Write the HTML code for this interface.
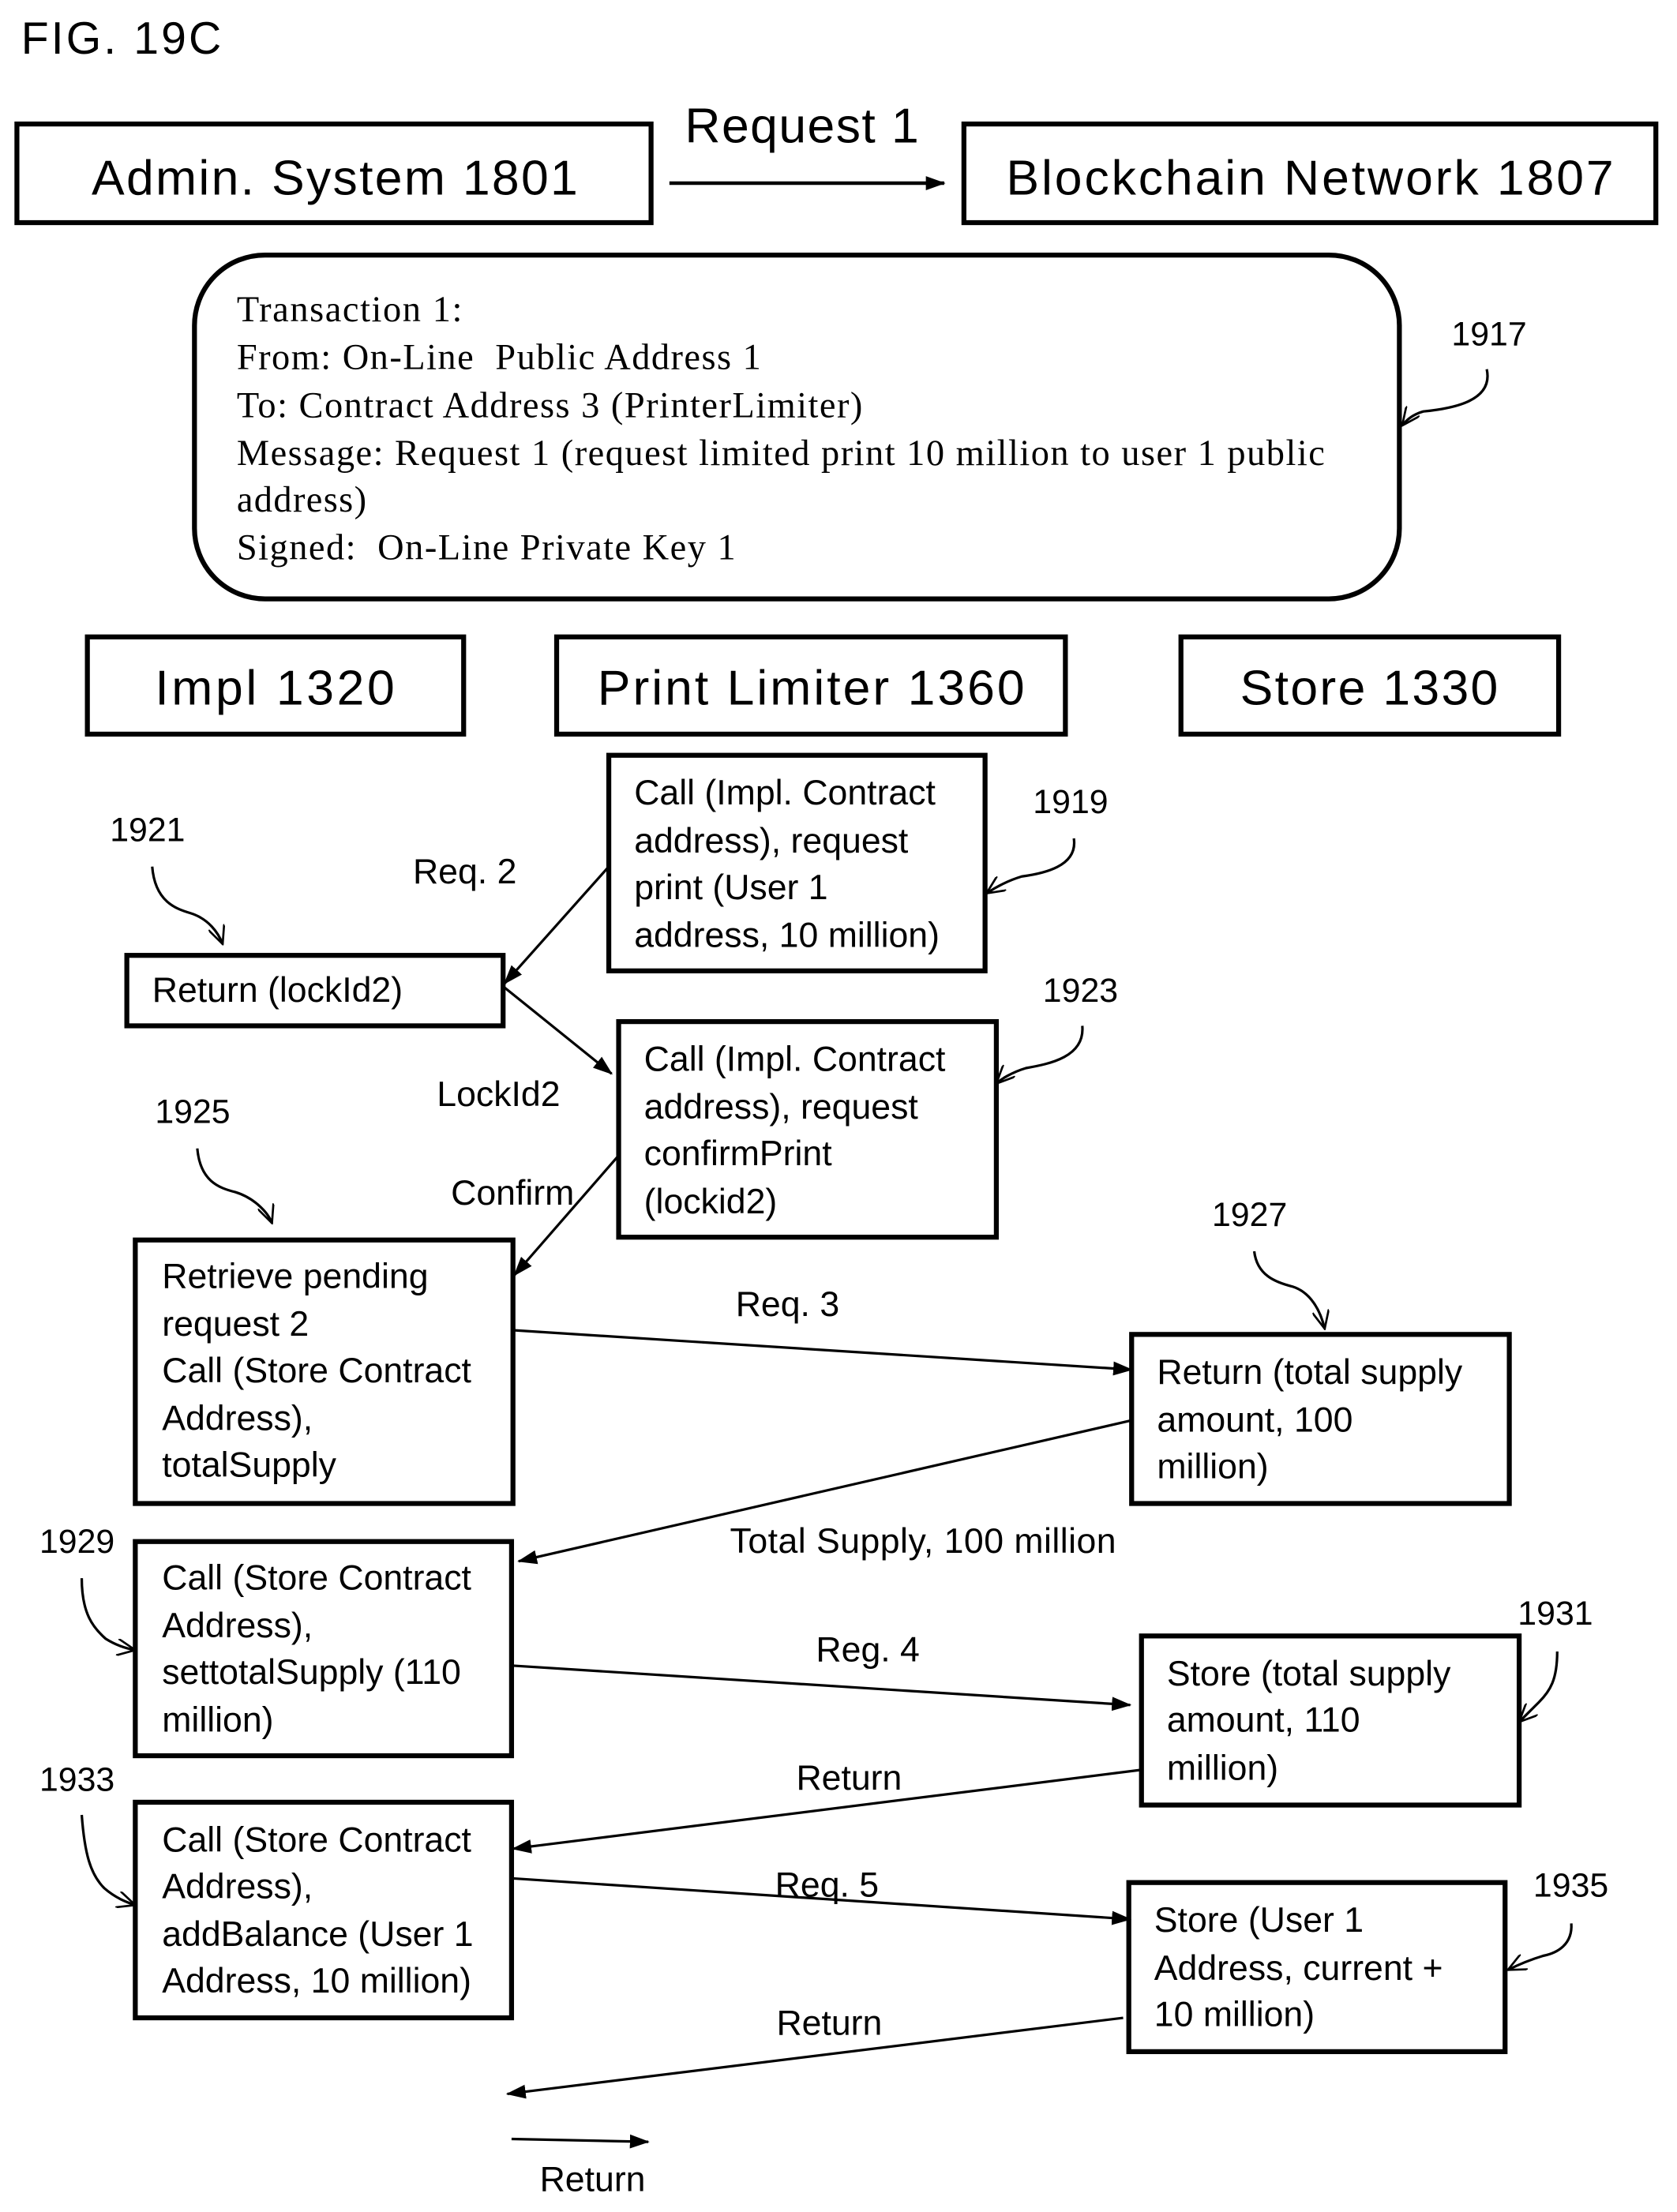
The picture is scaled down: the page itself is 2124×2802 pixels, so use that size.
<!DOCTYPE html>
<html><head><meta charset="utf-8"><style>
html,body{margin:0;padding:0;background:#fff;}
svg{display:block;}
text{font-family:"Liberation Sans",sans-serif;fill:#000;}
.s{font-family:"Liberation Serif",serif;font-size:26px;}
.b{font-size:35px;}
.m{font-size:25px;}
.n{font-size:24px;}
</style></head><body>
<svg width="2124" height="2802" viewBox="0 0 1190 1569.8" preserveAspectRatio="none" xmlns="http://www.w3.org/2000/svg">
<defs>
<marker id="a" markerWidth="14" markerHeight="10" refX="13" refY="5" orient="auto" markerUnits="userSpaceOnUse"><path d="M0,0 L14,5 L0,10 Z" fill="#000"/></marker>
<marker id="v" markerWidth="14" markerHeight="12" refX="13" refY="6" orient="auto" markerUnits="userSpaceOnUse"><path d="M0,0 L13,6 L0,12" fill="none" stroke="#000" stroke-width="1.5"/></marker>
</defs>
<g fill="none" stroke="#000" stroke-width="3.5">
<rect x="12" y="88" width="450" height="70"/>
<rect x="684" y="88" width="491" height="70"/>
<rect x="138" y="181" width="855" height="244" rx="50"/>
<rect x="62" y="452" width="267" height="69"/>
<rect x="395" y="452" width="361" height="69"/>
<rect x="838" y="452" width="268" height="69"/>
<rect x="432" y="536" width="267" height="153"/>
<rect x="90" y="678" width="267" height="50"/>
<rect x="439" y="725" width="268" height="153"/>
<rect x="96" y="880" width="268" height="187"/>
<rect x="803" y="947" width="268" height="120"/>
<rect x="96" y="1094" width="267" height="152"/>
<rect x="810" y="1161" width="268" height="120"/>
<rect x="96" y="1279" width="267" height="153"/>
<rect x="801" y="1336" width="267" height="120"/>
</g>
<g fill="none" stroke="#000" stroke-width="1.8">
<line x1="475" y1="130" x2="670" y2="130" marker-end="url(#a)" stroke-width="2.5"/>
<line x1="432" y1="615" x2="358" y2="698" marker-end="url(#a)"/>
<line x1="357" y1="700" x2="434" y2="762" marker-end="url(#a)"/>
<line x1="439" y1="820" x2="365" y2="905" marker-end="url(#a)"/>
<line x1="364" y1="944" x2="803" y2="972" marker-end="url(#a)"/>
<line x1="803" y1="1008" x2="368" y2="1108" marker-end="url(#a)"/>
<line x1="363" y1="1182" x2="802" y2="1210" marker-end="url(#a)"/>
<line x1="810" y1="1256" x2="364" y2="1312" marker-end="url(#a)"/>
<line x1="363" y1="1333" x2="802" y2="1362" marker-end="url(#a)"/>
<line x1="797" y1="1432" x2="360" y2="1486" marker-end="url(#a)"/>
<line x1="363" y1="1518" x2="460" y2="1520" marker-end="url(#a)"/>
<path d="M1055,262 C1060,285 1030,290 1010,292 C1003,294 998,298 995,302" marker-end="url(#v)"/>
<path d="M762,595 C765,615 740,620 725,622 C715,625 706,630 700,634" marker-end="url(#v)"/>
<path d="M108,615 C110,640 125,645 135,648 C148,652 155,662 158,670" marker-end="url(#v)"/>
<path d="M768,728 C770,750 745,755 728,758 C718,761 710,766 707,769" marker-end="url(#v)"/>
<path d="M140,815 C142,838 155,843 167,846 C180,850 190,860 193,868" marker-end="url(#v)"/>
<path d="M890,888 C892,905 905,910 917,913 C930,917 937,930 940,943" marker-end="url(#v)"/>
<path d="M58,1120 C58,1145 66,1155 75,1163 C83,1168 90,1170 96,1171" marker-end="url(#v)"/>
<path d="M1105,1172 C1105,1192 1100,1200 1092,1208 C1086,1214 1082,1218 1078,1222" marker-end="url(#v)"/>
<path d="M58,1288 C60,1315 64,1330 74,1340 C82,1347 90,1350 96,1352" marker-end="url(#v)"/>
<path d="M1115,1365 C1116,1380 1105,1386 1095,1388 C1085,1391 1076,1395 1070,1398" marker-end="url(#v)"/>
</g>
<text x="15" y="38" style="font-size:32px" textLength="142">FIG. 19C</text>
<text x="486" y="101" class="b" textLength="166">Request 1</text>
<text x="65" y="138" class="b" textLength="345">Admin. System 1801</text>
<text x="714" y="138" class="b" textLength="431">Blockchain Network 1807</text>
<text class="s" x="168" y="228" textLength="160">Transaction 1:</text>
<text class="s" x="168" y="262" textLength="372">From: On-Line&#160; Public Address 1</text>
<text class="s" x="168" y="296" textLength="444">To: Contract Address 3 (PrinterLimiter)</text>
<text class="s" x="168" y="330" textLength="772">Message: Request 1 (request limited print 10 million to user 1 public</text>
<text class="s" x="168" y="363" textLength="92">address)</text>
<text class="s" x="168" y="397" textLength="354">Signed:&#160; On-Line Private Key 1</text>
<text x="1030" y="245" class="n">1917</text>
<text x="110" y="500" class="b" textLength="170">Impl 1320</text>
<text x="424" y="500" class="b" textLength="303">Print Limiter 1360</text>
<text x="880" y="500" class="b" textLength="183">Store 1330</text>
<g class="m">
<text x="450" y="571">Call (Impl. Contract</text>
<text x="450" y="605">address), request</text>
<text x="450" y="638">print (User 1</text>
<text x="450" y="672">address, 10 million)</text>
<text x="733" y="577" class="n">1919</text>
<text x="78" y="597" class="n">1921</text>
<text x="293" y="627">Req. 2</text>
<text x="108" y="711">Return (lockId2)</text>
<text x="310" y="785">LockId2</text>
<text x="457" y="760">Call (Impl. Contract</text>
<text x="457" y="794">address), request</text>
<text x="457" y="827">confirmPrint</text>
<text x="457" y="861">(lockid2)</text>
<text x="740" y="711" class="n">1923</text>
<text x="110" y="797" class="n">1925</text>
<text x="320" y="855">Confirm</text>
<text x="115" y="914">Retrieve pending</text>
<text x="115" y="948">request 2</text>
<text x="115" y="981">Call (Store Contract</text>
<text x="115" y="1015">Address),</text>
<text x="115" y="1048">totalSupply</text>
<text x="522" y="934">Req. 3</text>
<text x="860" y="870" class="n">1927</text>
<text x="821" y="982">Return (total supply</text>
<text x="821" y="1016">amount, 100</text>
<text x="821" y="1049">million)</text>
<text x="518" y="1102" textLength="274">Total Supply, 100 million</text>
<text x="28" y="1102" class="n">1929</text>
<text x="115" y="1128">Call (Store Contract</text>
<text x="115" y="1162">Address),</text>
<text x="115" y="1195">settotalSupply (110</text>
<text x="115" y="1229">million)</text>
<text x="579" y="1179">Reg. 4</text>
<text x="828" y="1196">Store (total supply</text>
<text x="828" y="1229">amount, 110</text>
<text x="828" y="1263">million)</text>
<text x="1077" y="1153" class="n">1931</text>
<text x="565" y="1270">Return</text>
<text x="28" y="1271" class="n">1933</text>
<text x="115" y="1314">Call (Store Contract</text>
<text x="115" y="1347">Address),</text>
<text x="115" y="1381">addBalance (User 1</text>
<text x="115" y="1414">Address, 10 million)</text>
<text x="550" y="1346">Req. 5</text>
<text x="819" y="1371">Store (User 1</text>
<text x="819" y="1405">Address, current +</text>
<text x="819" y="1438">10 million)</text>
<text x="1088" y="1346" class="n">1935</text>
<text x="551" y="1444">Return</text>
<text x="383" y="1555">Return</text>
</g>
</svg>
</body></html>
